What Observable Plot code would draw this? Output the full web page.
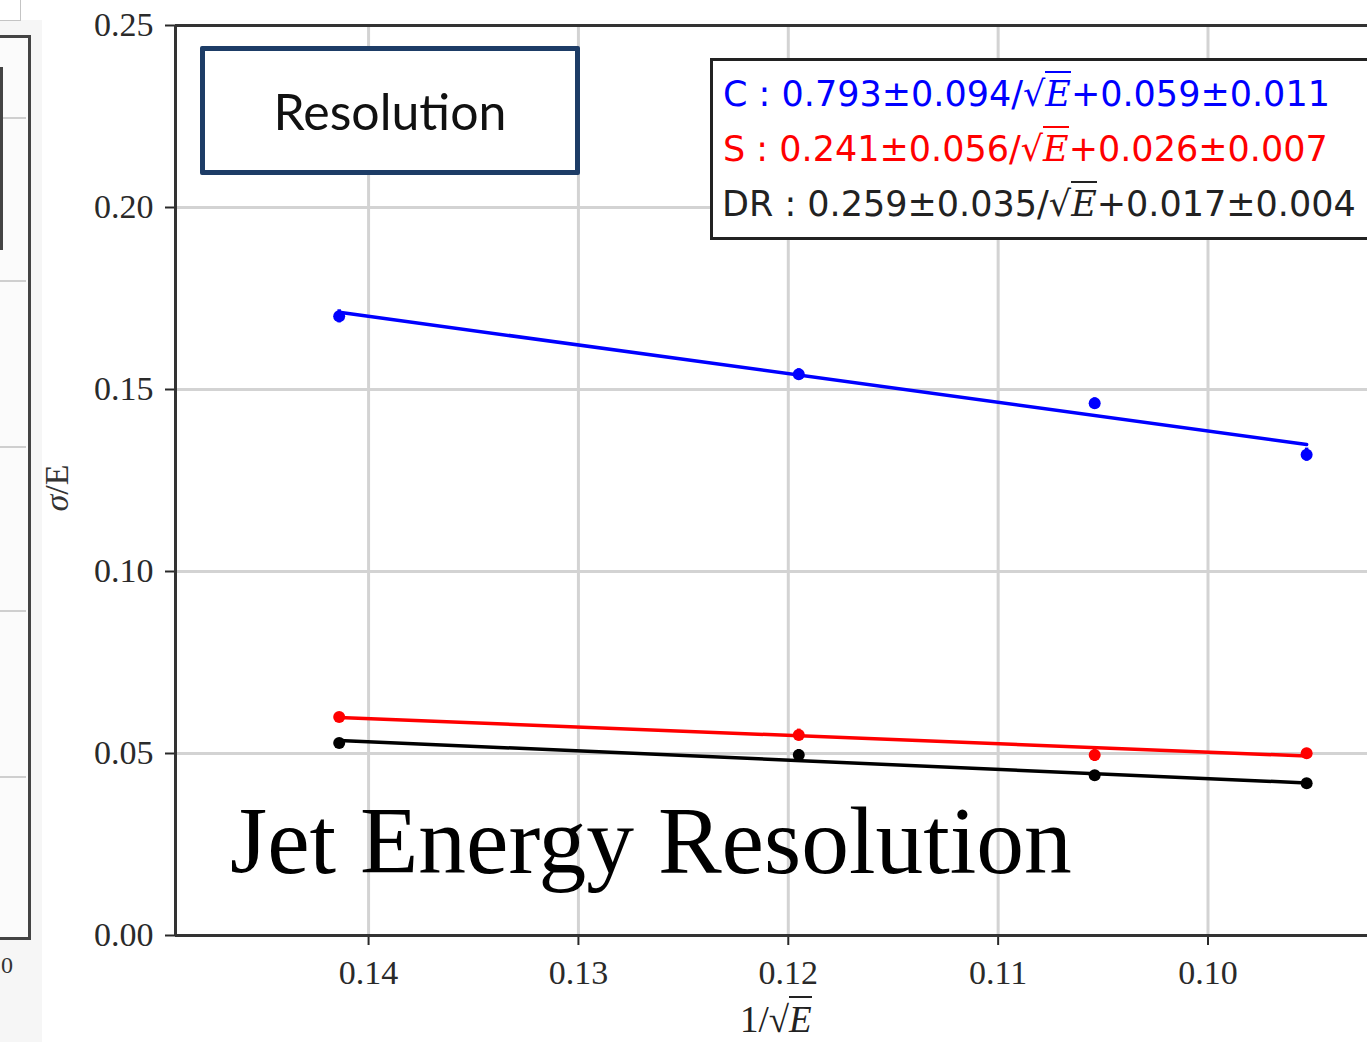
<!DOCTYPE html>
<html><head><meta charset="utf-8">
<script src="https://cdn.jsdelivr.net/npm/d3@7"></script>
<script src="https://cdn.jsdelivr.net/npm/@observablehq/plot@0.6"></script>
<style>
body{margin:0;background:#fff;}
#wrap{position:relative;width:1367px;height:1042px;overflow:hidden;background:#fff;}
#wrap svg{position:absolute;left:0;top:0;}
.abs{position:absolute;}
.E{font-family:"DejaVu Serif",serif;font-style:italic;border-top:2px solid currentColor;padding-top:1px;}
</style></head>
<body><div id="wrap">
  <!-- cropped neighbouring panel on the left edge -->
  <div class="abs" style="left:0;top:20px;width:42px;height:1022px;background:#f6f6f6;"></div>
  <div class="abs" style="left:-1px;top:-1px;width:20px;height:20px;border:1px solid #c4c4c4;background:#fff;"></div>
  <div class="abs" style="left:-10px;top:35px;width:35px;height:899px;border:3px solid #444;background:#fbfbfb;"></div>
  <div class="abs" style="left:0;top:117px;width:26px;height:2px;background:#cfcfcf;"></div>
  <div class="abs" style="left:0;top:280px;width:26px;height:2px;background:#cfcfcf;"></div>
  <div class="abs" style="left:0;top:446px;width:26px;height:2px;background:#cfcfcf;"></div>
  <div class="abs" style="left:0;top:610px;width:26px;height:2px;background:#cfcfcf;"></div>
  <div class="abs" style="left:0;top:776px;width:26px;height:2px;background:#cfcfcf;"></div>
  <div class="abs" style="left:0;top:67px;width:3px;height:183px;background:#444;"></div>
  <div class="abs" style="left:1px;top:952px;font:24px 'Liberation Serif',serif;color:#333;">0</div>
</div>
<script>
// ---- data ----
const invSqrtE = [0.1414, 0.1195, 0.1054, 0.0953];          // 1/sqrt(E)
const sigmaC  = [0.1701, 0.1542, 0.1462, 0.1321];
const sigmaS  = [0.0600, 0.0551, 0.0496, 0.0501];
const sigmaDR = [0.0529, 0.0496, 0.0440, 0.0418];
const errC  = [0.0018, 0.0015, 0.0015, 0.0018];
const errS  = [0.0012, 0.0016, 0.0018, 0.0013];
const errDR = [0.0012, 0.0015, 0.0013, 0.0011];
const fitX  = [0.1414, 0.0953];
const fitC  = [0.1712, 0.1349];
const fitS  = [0.0599, 0.0493];
const fitDR = [0.0536, 0.0419];
const seriesNames  = ["C", "S", "DR"];
const seriesColors = ["#0000ff", "#ff0000", "#000000"];
const legendTexts = [
  ["C : 0.793±0.094/√", "+0.059±0.011"],
  ["S : 0.241±0.056/√", "+0.026±0.007"],
  ["DR : 0.259±0.035/√", "+0.017±0.004"]
];
const xTicks = [0.14, 0.13, 0.12, 0.11, 0.10];
const yTicks = [0, 0.05, 0.10, 0.15, 0.20, 0.25];
const xDomain = [0.1492, 0.0924];
const yDomain = [0, 0.25];

const sig = {C: sigmaC, S: sigmaS, DR: sigmaDR};
const err = {C: errC, S: errS, DR: errDR};
const fit = {C: fitC, S: fitS, DR: fitDR};
const points = seriesNames.flatMap(s => invSqrtE.map((x, i) => ({series: s, x, y: sig[s][i], e: err[s][i]})));
const fits = seriesNames.flatMap(s => fitX.map((x, i) => ({series: s, x, y: fit[s][i]})));

const chart = Plot.plot({
  width: 1367, height: 1042,
  marginLeft: 175, marginRight: 0, marginTop: 25, marginBottom: 107,
  x: {domain: xDomain},
  y: {domain: yDomain},
  color: {domain: seriesNames, range: seriesColors},
  style: {fontFamily: "'Liberation Serif', serif", fontSize: "34px", color: "#2a2a2a", background: "transparent"},
  marks: [
    Plot.gridX(xTicks, {stroke: "#d3d3d3", strokeOpacity: 1, strokeWidth: 3}),
    Plot.gridY(yTicks, {stroke: "#d3d3d3", strokeOpacity: 1, strokeWidth: 3}),
    Plot.line(fits, {x: "x", y: "y", z: "series", stroke: "series", strokeWidth: 3.5}),
    Plot.ruleX(points, {x: "x", y1: d => d.y - d.e, y2: d => d.y + d.e, stroke: "series", strokeWidth: 3.5}),
    Plot.dot(points, {x: "x", y: "y", fill: "series", r: 6}),
    Plot.axisX(xTicks, {tickFormat: d3.format(".2f"), tickSize: 10, tickPadding: 14, label: null, strokeWidth: 2}),
    Plot.axisY(yTicks, {tickFormat: d3.format(".2f"), tickSize: 10, tickPadding: 12, label: null, strokeWidth: 2}),
    Plot.ruleX([xDomain[0]], {stroke: "#333", strokeWidth: 3}),
    Plot.ruleY(yDomain, {stroke: "#333", strokeWidth: 3})
  ]
});
const wrap = document.getElementById("wrap");
wrap.appendChild(chart);

// ---- text overlays ----
function add(html, style) {
  const d = document.createElement("div");
  d.className = "abs";
  d.setAttribute("style", style);
  d.innerHTML = html;
  wrap.appendChild(d);
  return d;
}
// Resolution box
add("Resolution", "left:200px;top:46px;width:370px;height:119px;border:5px solid #1d3c66;background:#fff;border-radius:2px;font:50px Lato,sans-serif;color:#111;display:flex;align-items:center;justify-content:center;");
// legend box
add("", "left:710px;top:58px;width:700px;height:176px;border:3px solid #222;background:#fff;");
const legTops = [77, 132, 187];
const legLefts = [723, 723, 722];
legendTexts.forEach((t, i) => {
  add(`${t[0]}<span class="E">E</span>${t[1]}`,
      `left:${legLefts[i]}px;top:${legTops[i]}px;font-family:'DejaVu Sans',sans-serif;font-size:35px;line-height:35px;white-space:nowrap;color:${seriesColors[i] === "#000000" ? "#222" : seriesColors[i]};`);
});
// big annotation
add("Jet Energy Resolution", "left:230px;top:794px;font:95.5px 'Liberation Serif',serif;line-height:95.5px;color:#000;white-space:nowrap;");
// axis labels
add(`1/√<span class="E" style="font-family:'Liberation Serif',serif;">E</span>`, "left:740px;top:1001px;font:37px 'Liberation Serif',serif;line-height:37px;color:#222;white-space:nowrap;");
add(`<i>σ</i>/E`, "left:57px;top:488px;transform:translate(-50%,-50%) rotate(-90deg);font:34px 'Liberation Serif',serif;line-height:34px;color:#333;white-space:nowrap;");
</script>
</body></html>
